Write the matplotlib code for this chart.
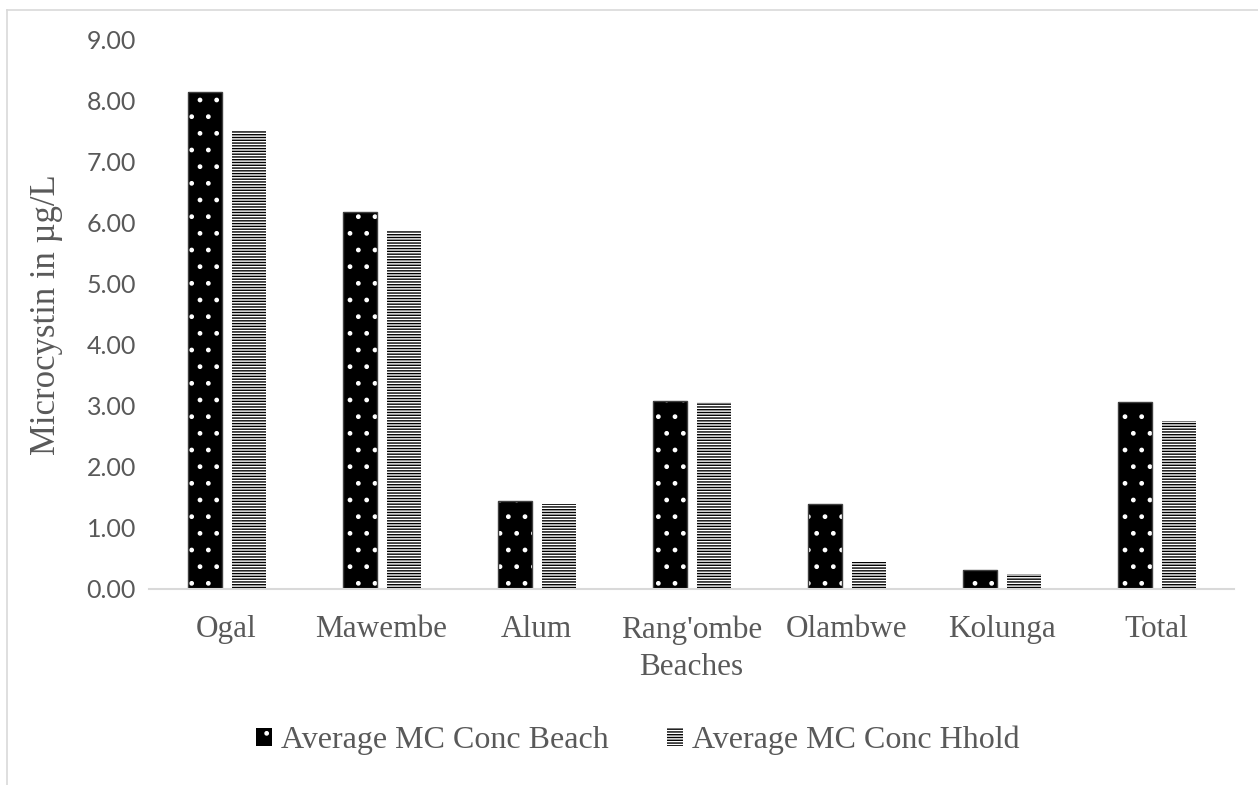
import numpy as np
import matplotlib
matplotlib.use("Agg")
from matplotlib import pyplot as plt
from matplotlib.lines import Line2D
from matplotlib.patches import Patch

beaches = ["Ogal", "Mawembe", "Alum", "Rang'ombe", "Olambwe", "Kolunga", "Total"]
mc_beach = [8.14, 6.17, 1.45, 3.08, 1.39, 0.31, 3.07]
mc_hhold = [7.51, 5.87, 1.39, 3.07, 0.44, 0.25, 2.75]

grey_text = "#595959"
grey_line = "#d9d9d9"
serif = ["Liberation Serif", "DejaVu Serif"]

plt.rcParams["hatch.linewidth"] = 1.0

fig = plt.figure(figsize=(12.58, 7.85), dpi=100)
ax = fig.add_axes([0.1185, 0.2497, 0.8625, 0.6996])

x = np.arange(len(beaches))
w = 0.22
off = 0.142

# beach bars: black with white dots
ax.bar(x - off, mc_beach, w, color="black", edgecolor="white", hatch=".", linewidth=0)
ax.bar(x - off, mc_beach, w, fill=False, edgecolor="#404040", linewidth=1)
# household bars: dense horizontal stripes
ax.bar(x + off, mc_hhold, w, color="white", edgecolor="black", hatch="------", linewidth=0)

ax.set_xlim(-0.5, len(beaches) - 0.5)
ax.set_ylim(0, 9)
ax.set_yticks(np.arange(0, 10, 1))
ax.set_yticklabels([f"{v:.2f}" for v in range(10)], family="Lato", fontsize=18, color=grey_text)
ax.set_xticks(x)
ax.set_xticklabels(beaches, family=serif, fontsize=22.5, color=grey_text)
ax.tick_params(axis="both", length=0)
ax.tick_params(axis="y", pad=9.5)
ax.tick_params(axis="x", pad=19)

for s in ["top", "right", "left"]:
    ax.spines[s].set_visible(False)
ax.spines["bottom"].set_color(grey_line)
ax.spines["bottom"].set_linewidth(1.5)

ax.set_xlabel("Beaches", family=serif, fontsize=22.5, color=grey_text, labelpad=6)
ax.set_ylabel("Microcystin in µg/L", family=serif, fontsize=25, color=grey_text, labelpad=17)

handles = [
    Patch(facecolor="black", edgecolor="white", hatch=".", linewidth=0),
    Patch(facecolor="white", edgecolor="black", hatch="------", linewidth=0),
]
fig.legend(handles, ["Average MC Conc Beach", "Average MC Conc Hhold"],
           loc="center", bbox_to_anchor=(0.507, 0.057), ncol=2, frameon=False,
           prop={"family": serif, "size": 23}, labelcolor=grey_text,
           handlelength=0.5, handleheight=0.5, handletextpad=0.3, columnspacing=1.8)

# chart area outline
fig.add_artist(Line2D([0.0056, 0.0056], [0, 0.987], color=grey_line, lw=1.2))
fig.add_artist(Line2D([0.0056, 1], [0.987, 0.987], color=grey_line, lw=1.2))

fig.savefig("out.png", dpi=100)
